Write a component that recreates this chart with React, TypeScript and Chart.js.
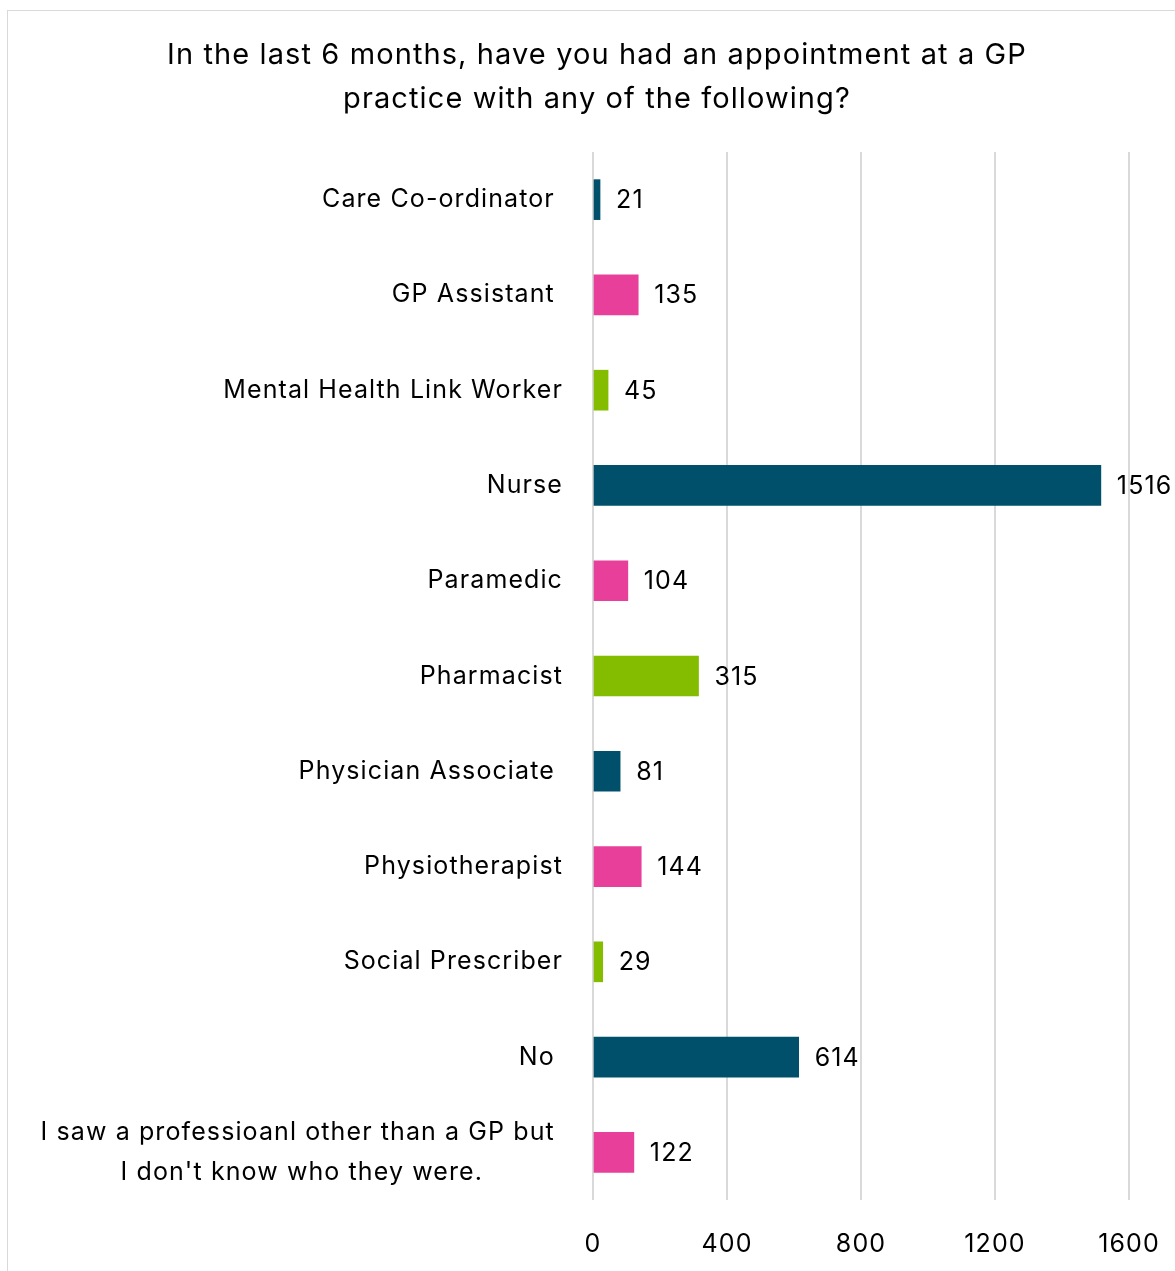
import React, { useEffect, useRef } from "react";
import { Chart, registerables } from "chart.js";

Chart.register(...registerables);

const titleLines = [
  "In the last 6 months, have you had an appointment at a GP",
  "practice with any of the following?",
];

const categories: (string | string[])[] = [
  "Care Co-ordinator ",
  "GP Assistant ",
  "Mental Health Link Worker",
  "Nurse",
  "Paramedic",
  "Pharmacist",
  "Physician Associate ",
  "Physiotherapist",
  "Social Prescriber",
  "No ",
  ["I saw a professioanl other than a GP but ", "I don't know who they were."],
];

const values = [21, 135, 45, 1516, 104, 315, 81, 144, 29, 614, 122];

const palette = ["#00506B", "#E8409A", "#84BD00"];

const xMin = 0;
const xMax = 1600;
const xStep = 400;

const FONT = "Inter, 'Open Sans', sans-serif";
const LABEL_SIZE = 25;
const TITLE_SIZE = 29;
const SPACING = "1.1px";

export default function App() {
  const ref = useRef<HTMLCanvasElement>(null);

  useEffect(() => {
    const canvas = ref.current;
    if (!canvas) return;

    const labelPlugin = {
      id: "customLabels",
      beforeDraw(chart: any) {
        (chart.ctx as any).letterSpacing = SPACING;
      },
      afterDatasetsDraw(chart: any) {
        const ctx = chart.ctx as CanvasRenderingContext2D;
        const y = chart.scales.y;
        const x = chart.scales.x;
        ctx.save();
        (ctx as any).letterSpacing = SPACING;
        ctx.font = `${LABEL_SIZE}px ${FONT}`;
        ctx.fillStyle = "#000000";
        ctx.textBaseline = "middle";
        categories.forEach((lab, i) => {
          const cy = y.getPixelForValue(i);
          const lines = Array.isArray(lab) ? lab : [lab];
          const widths = lines.map((l) => ctx.measureText(l).width);
          const maxW = Math.max(...widths);
          const right = x.left - 30;
          const center = right - maxW / 2;
          ctx.textAlign = "center";
          lines.forEach((l, k) => {
            ctx.fillText(l, center, cy + (k - (lines.length - 1) / 2) * 40);
          });
        });
        const meta = chart.getDatasetMeta(0);
        ctx.textAlign = "left";
        meta.data.forEach((bar: any, i: number) => {
          ctx.fillText(String(values[i]), bar.x + 16, bar.y + 1);
        });
        ctx.restore();
      },
    };

    const chart = new Chart(canvas, {
      type: "bar",
      data: {
        labels: categories.map((c) => (Array.isArray(c) ? c.join(" ") : c)),
        datasets: [
          {
            data: values,
            backgroundColor: values.map((_, i) => palette[i % palette.length]),
            borderWidth: 0,
            barThickness: 40,
          },
        ],
      },
      options: {
        indexAxis: "y",
        responsive: false,
        animation: false,
        layout: { padding: { left: 65, right: 46, top: 0, bottom: 0 } },
        plugins: {
          legend: { display: false },
          tooltip: { enabled: false },
          title: {
            display: true,
            text: titleLines,
            color: "#000000",
            font: { family: FONT, size: TITLE_SIZE, weight: "normal", lineHeight: 44 / TITLE_SIZE },
            padding: { top: 33, bottom: 31 },
          },
        },
        scales: {
          x: {
            min: xMin,
            max: xMax,
            grid: { color: "#D9D9D9", lineWidth: 2, drawTicks: false },
            border: { display: false },
            ticks: {
              stepSize: xStep,
              color: "#000000",
              font: { family: FONT, size: LABEL_SIZE },
              padding: 29,
              callback: (v: any) => String(v),
            },
            afterFit(s: any) {
              s.height = 71;
              s.paddingLeft = 0;
              s.paddingRight = 0;
            },
          },
          y: {
            grid: { display: false },
            border: { display: false },
            ticks: { display: false },
            afterFit(s: any) {
              s.width = 528;
            },
          },
        },
      },
      plugins: [labelPlugin],
    });

    return () => chart.destroy();
  }, []);

  return (
    <div
      style={{
        position: "absolute",
        left: 0,
        top: 0,
        width: 1175,
        height: 1271,
        overflow: "hidden",
        background: "#ffffff",
      }}
    >
      <div
        style={{
          position: "absolute",
          left: 7,
          top: 10,
          width: 1200,
          height: 1300,
          borderLeft: "1px solid #D9D9D9",
          borderTop: "1px solid #D9D9D9",
        }}
      />
      <canvas
        ref={ref}
        width={1175}
        height={1271}
        style={{ position: "absolute", left: 0, top: 0, width: 1175, height: 1271 }}
      />
    </div>
  );
}
